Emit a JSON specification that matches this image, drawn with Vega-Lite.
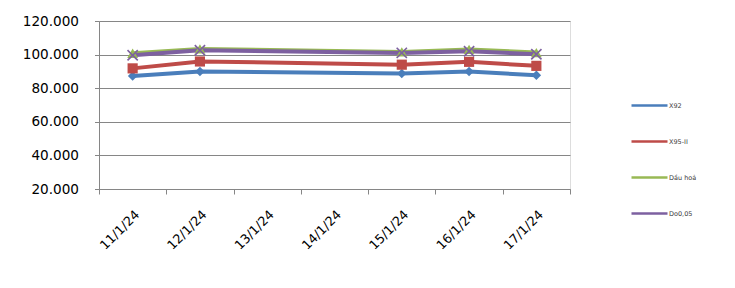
{
  "$schema": "https://vega.github.io/schema/vega-lite/v6.json",
  "width": 471,
  "height": 168,
  "autosize": {"type": "none"},
  "padding": {"left": 99, "top": 21, "right": 165, "bottom": 99},
  "background": "white",
  "data": {
    "values": [
      {"date": "11/1/24", "series": "X92", "value": 87.2},
      {"date": "12/1/24", "series": "X92", "value": 90.0},
      {"date": "15/1/24", "series": "X92", "value": 88.8},
      {"date": "16/1/24", "series": "X92", "value": 89.9},
      {"date": "17/1/24", "series": "X92", "value": 87.7},
      {"date": "11/1/24", "series": "X95-II", "value": 91.8},
      {"date": "12/1/24", "series": "X95-II", "value": 95.9},
      {"date": "15/1/24", "series": "X95-II", "value": 94.0},
      {"date": "16/1/24", "series": "X95-II", "value": 95.7},
      {"date": "17/1/24", "series": "X95-II", "value": 93.3},
      {"date": "11/1/24", "series": "Dầu hoả", "value": 100.8},
      {"date": "12/1/24", "series": "Dầu hoả", "value": 103.4},
      {"date": "15/1/24", "series": "Dầu hoả", "value": 101.6},
      {"date": "16/1/24", "series": "Dầu hoả", "value": 103.1},
      {"date": "17/1/24", "series": "Dầu hoả", "value": 101.2},
      {"date": "11/1/24", "series": "Do0,05", "value": 99.6},
      {"date": "12/1/24", "series": "Do0,05", "value": 102.6},
      {"date": "15/1/24", "series": "Do0,05", "value": 101.0},
      {"date": "16/1/24", "series": "Do0,05", "value": 102.0},
      {"date": "17/1/24", "series": "Do0,05", "value": 100.2}
    ]
  },
  "encoding": {
    "x": {
      "field": "date",
      "type": "nominal",
      "sort": null,
      "scale": {"type": "band", "domain": ["11/1/24", "12/1/24", "13/1/24", "14/1/24", "15/1/24", "16/1/24", "17/1/24"], "paddingInner": 0, "paddingOuter": 0},
      "axis": {
        "title": null,
        "labelAngle": -45,
        "labelFont": "DejaVu Sans",
        "labelFontSize": 12.8,
        "labelColor": "#000000",
        "labelPadding": 14,
        "tickBand": "extent",
        "tickSize": 5,
        "tickColor": "#868686",
        "domainColor": "#868686",
        "grid": false
      }
    },
    "y": {
      "field": "value",
      "type": "quantitative",
      "scale": {"domain": [20, 120], "nice": false, "zero": false},
      "axis": {
        "title": null,
        "values": [20, 40, 60, 80, 100, 120],
        "labelExpr": "format(datum.value, '.3f')",
        "labelFont": "DejaVu Sans",
        "labelFontSize": 13.6,
        "labelColor": "#000000",
        "labelPadding": 16,
        "tickSize": 4.5,
        "tickColor": "#868686",
        "domainColor": "#868686",
        "gridColor": "#868686",
        "grid": true
      }
    }
  },
  "layer": [
    {
      "mark": {"type": "line", "strokeWidth": 4},
      "encoding": {
        "color": {
          "field": "series",
          "type": "nominal",
          "scale": {"domain": ["X92", "X95-II", "Dầu hoả", "Do0,05"], "range": ["#4A7EBB", "#BE4B48", "#98B954", "#7D60A0"]},
          "legend": {
            "title": null,
            "orient": "none",
            "legendX": 531,
            "legendY": 65,
            "symbolType": "stroke",
            "symbolSize": 1296,
            "symbolStrokeWidth": 2.5,
            "labelFont": "DejaVu Sans",
            "labelFontSize": 6.5,
            "labelColor": "#404040",
            "labelOffset": 0,
            "rowPadding": 11
          }
        }
      }
    },
    {
      "mark": {"type": "point", "filled": true, "opacity": 1},
      "encoding": {
        "color": {
          "field": "series",
          "type": "nominal",
          "legend": null
        },
        "shape": {
          "field": "series",
          "type": "nominal",
          "scale": {"domain": ["X92", "X95-II", "Dầu hoả", "Do0,05"], "range": ["diamond", "square", "triangle-up", "M-1,-0.8L-0.8,-1L0,-0.2L0.8,-1L1,-0.8L0.2,0L1,0.8L0.8,1L0,0.2L-0.8,1L-1,0.8L-0.2,0Z"]},
          "legend": null
        },
        "size": {
          "field": "series",
          "type": "nominal",
          "scale": {"domain": ["X92", "X95-II", "Dầu hoả", "Do0,05"], "range": [90, 130, 90, 110]},
          "legend": null
        }
      }
    }
  ],
  "resolve": {"legend": {"color": "independent"}}
}
